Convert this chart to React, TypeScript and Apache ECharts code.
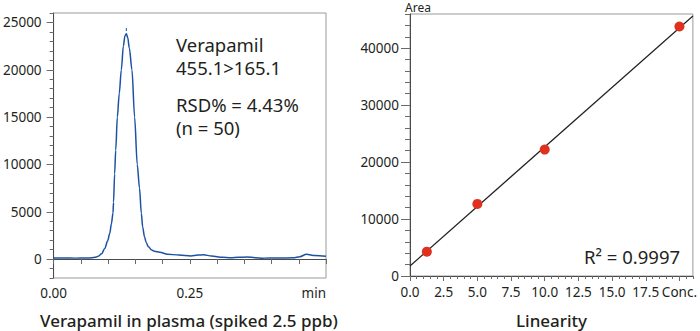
import React, { useEffect, useRef } from "react";
import * as echarts from "echarts";

// ---- Chromatogram (left) ----
const chromTime = [
  0.0, 0.02, 0.04, 0.06, 0.07, 0.076, 0.082, 0.088, 0.094, 0.099, 0.103, 0.106, 0.109, 0.11, 0.112,
  0.114, 0.117, 0.1205, 0.1243, 0.128, 0.131, 0.1335, 0.136, 0.139, 0.1438, 0.1487, 0.1535, 0.1577,
  0.161, 0.1635, 0.1668, 0.17, 0.174, 0.18, 0.185, 0.195, 0.209, 0.23, 0.252, 0.265, 0.275, 0.29,
  0.31, 0.325, 0.34, 0.355, 0.37, 0.385, 0.41, 0.44, 0.452, 0.464, 0.48, 0.5,
];
const chromSignal = [
  120, 110, 100, 110, 130, 180, 300, 550, 1130, 1900, 2700, 3700, 4860, 6000, 9000,
  11500, 15000, 17500, 20000, 22500, 23600, 23800, 23400, 22300, 20000, 15000, 10000, 7500,
  4830, 3400, 2360, 1750, 1300, 950, 820, 720, 520, 420, 330, 420, 450, 330,
  180, 130, 180, 230, 150, 100, 110, 130, 250, 500, 380, 290,
];
const peakMarker = [[0.1335, 24250]];
const chromYTicks = [0, 5000, 10000, 15000, 20000, 25000];
const chromXTicks = [0, 0.25, 0.5];
const chromXLabels = ["0.00", "0.25", "min"];

// ---- Linearity (right) ----
const concentrations = [1.25, 5, 10, 20];
const areas = [4270, 12650, 22200, 43800];
const fitSlope = 2090;
const fitIntercept = 1760;
const fitRange = [0, 21];
const linYTicks = [0, 10000, 20000, 30000, 40000];
const linXTicks = [0, 2.5, 5, 7.5, 10, 12.5, 15, 17.5, 20];
const linXLabels = ["0.0", "2.5", "5.0", "7.5", "10.0", "12.5", "15.0", "17.5", "Conc."];

const FONT = "Noto Sans";
const TXT = "#231f20";
const AXIS = "#4a4a4a";
const TICK = "#6a6a6a";

export default function App() {
  const ref = useRef<HTMLDivElement>(null);
  useEffect(() => {
    const chart = echarts.init(ref.current!, null, { renderer: "svg" });
    const labelStyle = { color: TXT, fontFamily: FONT, fontSize: 13.5 };
    const plain = (v: number) => String(v);
    const chromData = chromTime.map((t, i) => [t, chromSignal[i]]);
    const linData = concentrations.map((c, i) => [c, areas[i]]);
    const fitData = fitRange.map((x) => [x, fitSlope * x + fitIntercept]);
    const note = (text: string, x: number, y: number) => ({
      type: "text", x, y,
      style: { text, font: `18.5px '${FONT}'`, fill: TXT, verticalAlign: "middle", lineHeight: 19 },
    });

    chart.setOption({
      animation: false,
      textStyle: { fontFamily: FONT, color: TXT },
      grid: [
        { left: 52, top: 13, width: 274, height: 265, show: true, borderColor: "#9a9a9a", borderWidth: 1 },
        { left: 410, top: 14, width: 283, height: 262, show: true, borderColor: "#9a9a9a", borderWidth: 1 },
      ],
      xAxis: [
        {
          gridIndex: 0, type: "value", min: 0, max: 0.5, interval: 0.05, position: "bottom",
          axisLine: { show: true, lineStyle: { color: AXIS, width: 1 } },
          axisTick: { show: true, length: 5, lineStyle: { color: TICK } },
          axisLabel: {
            ...labelStyle, margin: 8, customValues: chromXTicks, alignMaxLabel: "right",
            formatter: (v: number) => chromXLabels[chromXTicks.findIndex((t) => Math.abs(t - v) < 1e-9)] ?? "",
          },
          splitLine: { show: false },
        },
        {
          gridIndex: 1, type: "value", min: fitRange[0], max: fitRange[1], interval: 0.5, position: "bottom",
          axisLine: { show: true, lineStyle: { color: AXIS, width: 1 } },
          axisTick: { show: true, length: 3, lineStyle: { color: TICK } },
          axisLabel: { show: false },
          splitLine: { show: false },
        },
        {
          gridIndex: 1, type: "value", min: fitRange[0], max: fitRange[1], position: "bottom",
          axisLine: { show: false },
          axisTick: { show: true, length: 5, customValues: linXTicks, lineStyle: { color: TICK } },
          axisLabel: {
            ...labelStyle, margin: 9, customValues: linXTicks,
            formatter: (v: number) => linXLabels[linXTicks.findIndex((t) => Math.abs(t - v) < 1e-9)] ?? "",
          },
          splitLine: { show: false },
        },
      ],
      yAxis: [
        {
          gridIndex: 0, type: "value", min: -2000, max: 26000, position: "left",
          axisLine: { show: true, lineStyle: { color: AXIS, width: 1 } },
          axisTick: { show: true, length: 7, customValues: chromYTicks, lineStyle: { color: TICK } },
          axisLabel: { ...labelStyle, margin: 12, customValues: chromYTicks, formatter: plain },
          splitLine: { show: false },
        },
        {
          gridIndex: 0, type: "value", min: -2000, max: 26000, interval: 1000, position: "left",
          axisLine: { show: false },
          axisTick: { show: true, length: 4, lineStyle: { color: TICK } },
          axisLabel: { show: false },
          splitLine: { show: false },
        },
        {
          gridIndex: 1, type: "value", min: 0, max: 46000, position: "left",
          axisLine: { show: true, lineStyle: { color: AXIS, width: 1 } },
          axisTick: { show: true, length: 9, customValues: linYTicks, lineStyle: { color: TICK } },
          axisLabel: { ...labelStyle, margin: 11, customValues: linYTicks, formatter: plain },
          splitLine: { show: false },
        },
        {
          gridIndex: 1, type: "value", min: 0, max: 46000, interval: 2000, position: "left",
          axisLine: { show: false },
          axisTick: { show: true, length: 5, lineStyle: { color: TICK } },
          axisLabel: { show: false },
          splitLine: { show: false },
        },
      ],
      series: [
        {
          type: "line", xAxisIndex: 0, yAxisIndex: 0, data: chromData, showSymbol: false,
          smooth: 0.3, smoothMonotone: "x",
          lineStyle: { color: "#1d51a3", width: 1.5 }, z: 3,
        },
        {
          type: "scatter", xAxisIndex: 0, yAxisIndex: 0, data: peakMarker,
          symbol: "rect", symbolSize: [1, 3], itemStyle: { color: "#1d51a3", opacity: 1 },
        },
        {
          type: "line", xAxisIndex: 1, yAxisIndex: 2, data: fitData, showSymbol: false,
          lineStyle: { color: "#231f20", width: 1.2 }, z: 2,
        },
        {
          type: "scatter", xAxisIndex: 1, yAxisIndex: 2, data: linData,
          symbol: "circle", symbolSize: 10, itemStyle: { color: "#e0301e", opacity: 1 }, z: 4,
        },
      ],
      graphic: [
        note("Verapamil", 176, 44),
        note("455.1>165.1", 176, 67.5),
        note("RSD% = 4.43%", 176, 104),
        note("(n = 50)", 176, 127.5),
        note("R² = 0.9997", 584, 256),
        {
          type: "text", x: 405, y: 7,
          style: { text: "Area", font: `12px '${FONT}'`, fill: TXT, verticalAlign: "middle", lineHeight: 12 },
        },
        {
          type: "text", x: 189, y: 320,
          style: { text: "Verapamil in plasma (spiked 2.5 ppb)", font: `500 17px '${FONT}'`, fill: TXT, align: "center", verticalAlign: "middle", lineHeight: 17 },
        },
        {
          type: "text", x: 551.5, y: 320,
          style: { text: "Linearity", font: `500 17px '${FONT}'`, fill: TXT, align: "center", verticalAlign: "middle", lineHeight: 17 },
        },
      ],
    });
    return () => chart.dispose();
  }, []);
  return <div ref={ref} style={{ position: "fixed", left: 0, top: 0, width: 700, height: 331, background: "#fff" }} />;
}
